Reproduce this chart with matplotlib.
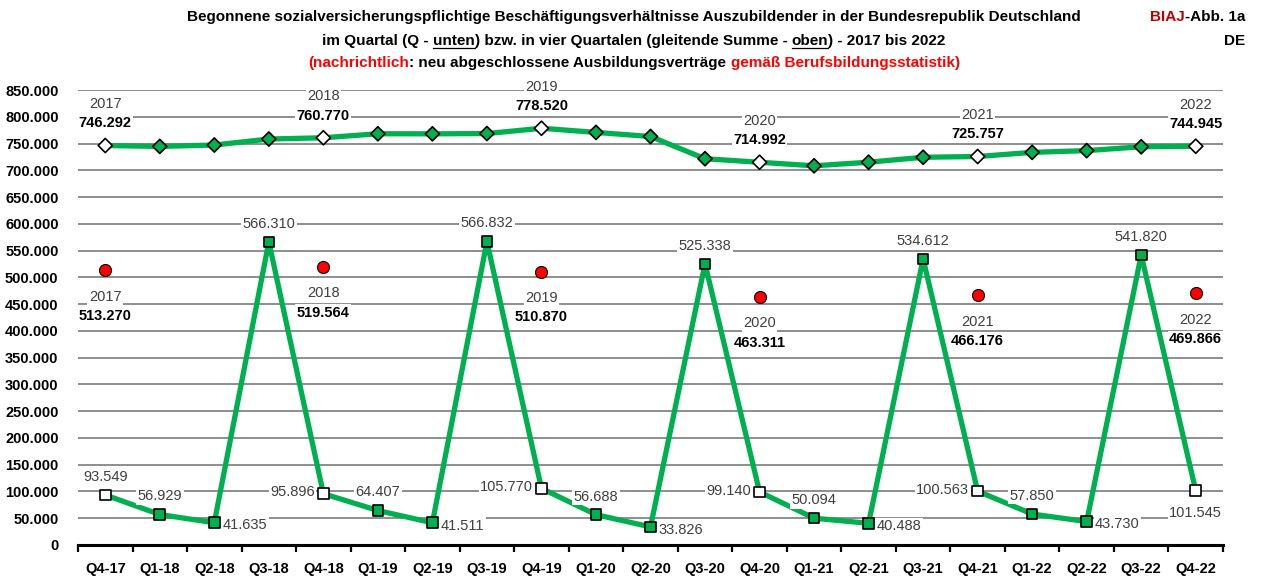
import matplotlib
matplotlib.use("Agg")
import matplotlib.pyplot as plt
from matplotlib.lines import Line2D
from matplotlib.ticker import FuncFormatter, FixedLocator

plt.rcParams['font.family'] = ['Liberation Sans', 'DejaVu Sans']

quarters = ["Q4-17", "Q1-18", "Q2-18", "Q3-18", "Q4-18", "Q1-19", "Q2-19", "Q3-19", "Q4-19",
            "Q1-20", "Q2-20", "Q3-20", "Q4-20", "Q1-21", "Q2-21", "Q3-21", "Q4-21",
            "Q1-22", "Q2-22", "Q3-22", "Q4-22"]
quarterly = [93549, 56929, 41635, 566310, 95896, 64407, 41511, 566832, 105770,
             56688, 33826, 525338, 99140, 50094, 40488, 534612, 100563,
             57850, 43730, 541820, 101545]
rolling = [746292, 744600, 747200, 758423, 760770, 768248, 768124, 768646, 778520,
           770801, 763116, 721622, 714992, 708398, 715060, 724334, 725757,
           733513, 736755, 743963, 744945]
years = ["2017", "2018", "2019", "2020", "2021", "2022"]
bbs = [513270, 519564, 510870, 463311, 466176, 469866]
# label placement for quarterly values
q_pos = ["above", "above", "right", "above", "left", "above", "right", "above", "left",
         "above", "right", "above", "left", "above", "right", "above", "left",
         "above", "right", "above", "below"]

W, H = 1262, 576
fig = plt.figure(figsize=(W / 100, H / 100), dpi=100)
ax = fig.add_axes([78 / W, 1 - 545 / H, (1223 - 78) / W, (545 - 90) / H])

GREEN = "#00B050"
GRID = "#868686"
TXT = "#404040"

def fmt(v):
    return f"{int(v):,}".replace(",", ".")

x = list(range(len(quarters)))
q4 = [i for i, q in enumerate(quarters) if q.startswith("Q4")]

ax.set_xlim(-0.5, len(quarters) - 0.5)
ax.set_ylim(0, 850000)
for v in range(50000, 850001, 50000):
    ax.axhline(v, color=GRID, lw=1.3, zorder=0)

# lines
ax.plot(x, rolling, color=GREEN, lw=3.8, zorder=2, solid_capstyle='round')
ax.plot(x, quarterly, color=GREEN, lw=3.8, zorder=2, solid_capstyle='round')
fc_r = ["white" if i in q4 else GREEN for i in x]
ax.scatter(x, rolling, marker="D", s=52, facecolors=fc_r, edgecolors="black", linewidths=1.2, zorder=4)
ax.scatter(x, quarterly, marker="s", s=58, facecolors=fc_r, edgecolors="black", linewidths=1.2, zorder=4)
ax.scatter(q4, bbs, marker="o", s=75, facecolors="red", edgecolors="black", linewidths=0.8, zorder=4)

bb = dict(facecolor="white", edgecolor="none", pad=1.0)
lab_fs = 10.5

for i, (v, p) in enumerate(zip(quarterly, q_pos)):
    if p == "above":
        off, ha, va = (0, 8), "center", "bottom"
    elif p == "below":
        off, ha, va = (0, -11), "center", "top"
    elif p == "right":
        off, ha, va = (6, -2), "left", "center"
    else:
        off, ha, va = (-6, 1), "right", "center"
    ax.annotate(fmt(v), (i, v), xytext=off, textcoords="offset points", ha=ha, va=va,
                fontsize=lab_fs, color=TXT, bbox=bb, zorder=3)

for k, i in enumerate(q4):
    v = rolling[i]
    ax.annotate(fmt(v), (i, v), xytext=(0, 16), textcoords="offset points", ha="center", va="center",
                fontsize=lab_fs, color="black", fontweight="bold", bbox=bb, zorder=3)
    ax.annotate(years[k], (i, v), xytext=(0, 30), textcoords="offset points", ha="center", va="center",
                fontsize=lab_fs, color=TXT, bbox=bb, zorder=3)
    v = bbs[k]
    ax.annotate(years[k], (i, v), xytext=(0, -19), textcoords="offset points", ha="center", va="center",
                fontsize=lab_fs, color=TXT, bbox=bb, zorder=3)
    ax.annotate(fmt(v), (i, v), xytext=(0, -33), textcoords="offset points", ha="center", va="center",
                fontsize=lab_fs, color="black", fontweight="bold", bbox=bb, zorder=3)

# axes styling
for s in ["left", "right", "top"]:
    ax.spines[s].set_visible(False)
ax.spines["bottom"].set_linewidth(2.2)
ax.spines["bottom"].set_color("black")
ax.set_yticks(range(0, 850001, 50000))
ax.yaxis.set_major_formatter(FuncFormatter(lambda v, p: fmt(v)))
ax.tick_params(axis="y", length=0, pad=14, labelsize=10.5)
for t in ax.get_yticklabels():
    t.set_fontweight("bold")
ax.set_xticks(x)
ax.set_xticklabels(quarters, fontweight="bold", fontsize=10.5)
ax.tick_params(axis="x", which="major", length=0, pad=12)
ax.xaxis.set_minor_locator(FixedLocator([i - 0.5 for i in range(len(quarters) + 1)]))
ax.tick_params(axis="x", which="minor", length=5, width=1.6, direction="out", color="black")

# title
r = fig.canvas.get_renderer()

def rich_line(ypix, pieces, cx, size=11):
    texts = []
    for s, c, ul in pieces:
        t = fig.text(0, 1 - ypix / H, s, color=c, fontsize=size, fontweight="bold", ha="left", va="baseline")
        texts.append((t, ul))
    widths = [t.get_window_extent(r).width for t, _ in texts]
    xx = cx - sum(widths) / 2
    for (t, ul), w in zip(texts, widths):
        t.set_x(xx / W)
        if ul:
            fig.add_artist(Line2D([xx / W, (xx + w) / W], [1 - (ypix + 2.5) / H] * 2, color="black", lw=0.9))
        xx += w

rich_line(21, [("Begonnene sozialversicherungspflichtige Beschäftigungsverhältnisse Auszubildender in der Bundesrepublik Deutschland", "black", False)], 634)
rich_line(45, [("im Quartal (Q - ", "black", False), ("unten", "black", True),
               (") bzw. in vier Quartalen (gleitende Summe - ", "black", False), ("oben", "black", True),
               (") - 2017 bis 2022", "black", False)], 634)
rich_line(67, [("(", "red", False), ("nachrichtlich", "red", False),
               (": neu abgeschlossene Ausbildungsverträge ", "black", False),
               ("gemäß Berufsbildungsstatistik", "red", False), (")", "red", False)], 634)

t1 = fig.text(1245 / W, 1 - 21 / H, "-Abb. 1a", fontsize=11, fontweight="bold", ha="right", va="baseline")
w1 = t1.get_window_extent(r).width
fig.text((1245 - w1) / W, 1 - 21 / H, "BIAJ", fontsize=11, fontweight="bold", color="#C00000", ha="right", va="baseline")
fig.text(1245 / W, 1 - 45 / H, "DE", fontsize=11, fontweight="bold", ha="right", va="baseline")

fig.savefig("out.png", dpi=100)
